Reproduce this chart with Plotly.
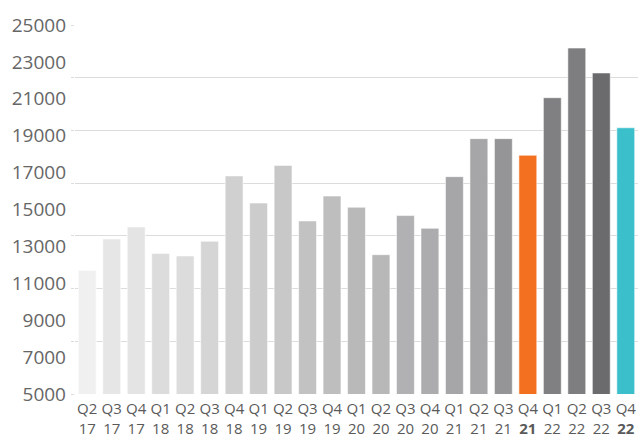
import plotly.graph_objects as go

# Quarterly values
quarters = ["Q2", "Q3", "Q4", "Q1", "Q2", "Q3", "Q4", "Q1", "Q2", "Q3", "Q4", "Q1",
            "Q2", "Q3", "Q4", "Q1", "Q2", "Q3", "Q4", "Q1", "Q2", "Q3", "Q4"]
years = ["17", "17", "17", "18", "18", "18", "18", "19", "19", "19", "19", "20",
         "20", "20", "20", "21", "21", "21", "21", "22", "22", "22", "22"]
values = [11700, 13400, 14050, 12620, 12480, 13280, 16820, 15350, 17390, 14380,
          15730, 15120, 12550, 14670, 13980, 16780, 18840, 18840, 17940, 21060,
          23750, 22400, 19430]
bold_years = [18, 22]  # indices whose year label is emphasised

colors = ["#f0f0f0", "#e6e6e7", "#e4e4e5", "#dcdcdd", "#dcdcdd", "#d5d5d6",
          "#d0d0d1", "#cccccd", "#c8c8c9", "#c2c2c3", "#bebebf", "#b9b9ba",
          "#b8b8b9", "#b1b1b3", "#acacae", "#a6a6a8", "#a6a6a8", "#959597",
          "#f37021", "#808083", "#7e7e81", "#6b6b6e", "#3bbfcb"]

y_labels = list(range(5000, 25001, 2000))
grid_vals = [5000 + k * 20000 / 7 for k in range(8)]

x_keys = [f"{q}-{y}-{i}" for i, (q, y) in enumerate(zip(quarters, years))]
x_text = [
    f"{q}<br><b>{y}</b>" if i in bold_years else f"{q}<br>{y}"
    for i, (q, y) in enumerate(zip(quarters, years))
]

fig = go.Figure()
fig.add_trace(go.Bar(
    x=x_keys,
    y=values,
    base=0,
    marker=dict(color=colors, line=dict(color="rgba(255,255,255,0.55)", width=1)),
    yaxis="y",
    hoverinfo="skip",
))
# invisible trace so the grid axis is rendered
fig.add_trace(go.Scatter(x=[x_keys[0]], y=[5000], yaxis="y2", mode="markers",
                         marker=dict(opacity=0), showlegend=False, hoverinfo="skip"))

fig.update_layout(
    width=638, height=436,
    margin=dict(l=75, r=0, t=25, b=42),
    paper_bgcolor="white", plot_bgcolor="white",
    showlegend=False,
    bargap=0.27,
    font=dict(family="Open Sans", color="#666666"),
    xaxis=dict(
        range=[-0.5, len(x_keys) - 0.5],
        tickmode="array", tickvals=x_keys, ticktext=x_text,
        tickfont=dict(size=15, color="#5a5a5a"),
        showgrid=False, zeroline=False, showline=False, ticks="",
        ticklabelstandoff=4, automargin=False,
    ),
    yaxis=dict(
        range=[5000, 25000], tickmode="array", tickvals=y_labels,
        ticktext=[str(v) for v in y_labels],
        tickfont=dict(size=19, color="#666666"),
        showgrid=False, zeroline=False, showline=False, ticks="",
        ticklabelstandoff=8, automargin=False,
    ),
    yaxis2=dict(
        range=[5000, 25000], overlaying="y", side="left",
        tickmode="array", tickvals=grid_vals, showticklabels=False,
        showgrid=True, gridcolor="#dcdcdc", gridwidth=1.2,
        ticks="outside", ticklen=3, tickcolor="#dcdcdc",
        zeroline=False, showline=False, automargin=False,
    ),
)

fig.write_html("out.html")
